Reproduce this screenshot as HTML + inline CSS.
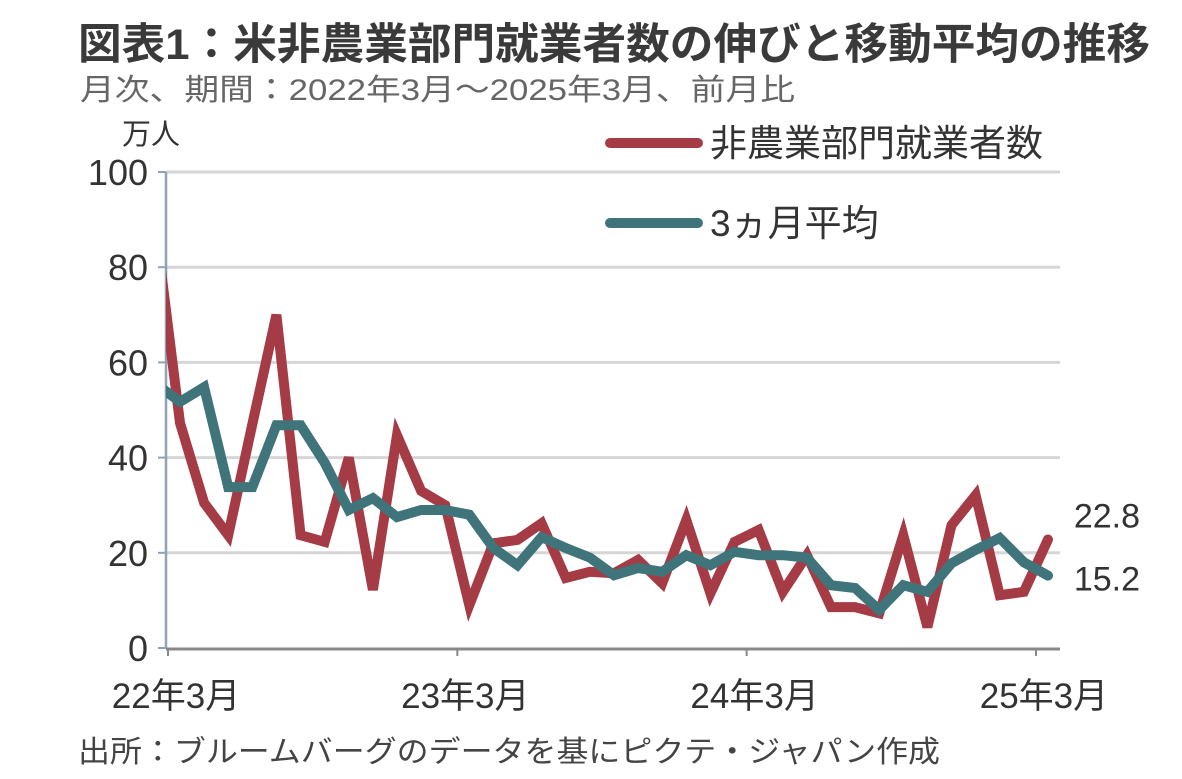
<!DOCTYPE html>
<html><head><meta charset="utf-8"><style>
body{margin:0;background:#fff;width:1182px;height:779px;overflow:hidden;font-family:"Liberation Sans","Noto Sans CJK JP",sans-serif;}
svg{position:absolute;left:0;top:0}
</style></head><body>
<svg id="chart" width="1182" height="779" xmlns="http://www.w3.org/2000/svg">
<text x="78" y="59" font-size="43" font-weight="bold" fill="#3a3a3a" font-family="Liberation Sans, Noto Sans CJK JP, sans-serif" textLength="1072" lengthAdjust="spacingAndGlyphs">図表1：米非農業部門就業者数の伸びと移動平均の推移</text>
<text x="80" y="100" font-size="30" fill="#666" font-family="Liberation Sans, Noto Sans CJK JP, sans-serif" textLength="715" lengthAdjust="spacingAndGlyphs">月次、期間：2022年3月～2025年3月、前月比</text>
<text x="122" y="144" font-size="29" fill="#333" font-family="Liberation Sans, Noto Sans CJK JP, sans-serif">万人</text>
<text x="78" y="762" font-size="30" fill="#444" font-family="Liberation Sans, Noto Sans CJK JP, sans-serif" textLength="862" lengthAdjust="spacingAndGlyphs">出所：ブルームバーグのデータを基にピクテ・ジャパン作成</text>
<g id="grid"></g><g id="axes"></g><g id="series"></g><g id="legend"></g>
</svg>
<script>
const yTicks=[0,20,40,60,80,100];
const xLabels=["22年3月","23年3月","24年3月","25年3月"];
const xLabelIdx=[0,12,24,36];
const payrolls=[88,47.3,30.5,23.7,47,70,23.7,22.3,40,12.2,44.7,33,30,9,22,22.7,26.2,14.7,16,15.7,18.5,13.6,26.9,11.5,22.3,24.8,11.8,19.5,8.6,8.6,7.3,23.7,4.4,25.8,32.1,11.1,11.8,22.8];
const avg3=[55.5,51.7,54.8,33.8,33.8,46.8,46.8,38.9,29,31.5,27.5,29,29,28,21,17.4,23.3,21,19,15.3,16.8,16,19.5,17.4,20.2,19.5,19.5,19,13.2,12.6,8,13.2,11.8,17.8,20.6,23.1,18,15.2];
const endLabels=["22.8","15.2"];
const NS="http://www.w3.org/2000/svg";
const X0=166,X1=1060,Y0=648,Y1=172;
function x(i){return 180+(i-1)*24.11;} // array index 0 = Feb 2022
function y(v){return Y0-(v/100)*(Y0-Y1);}
function el(t,a,p){const e=document.createElementNS(NS,t);for(const k in a)e.setAttribute(k,a[k]);p.appendChild(e);return e;}
const grid=document.getElementById('grid'),axes=document.getElementById('axes'),ser=document.getElementById('series'),leg=document.getElementById('legend');
yTicks.forEach(v=>{
 if(v>0){const g=el('line',{x1:X0,x2:X1,y1:y(v),y2:y(v),stroke:'#d6d6d6','stroke-width':3},grid);
 
 }
 const tk=el('line',{x1:X0-8,x2:X0,y1:y(v),y2:y(v),stroke:'#8fa2b8','stroke-width':2},axes);
 
 
 const t=el('text',{x:148,y:y(v)+13,'text-anchor':'end','font-size':36,fill:'#333'},axes);t.textContent=v;
 
 
});
const ya=el('line',{x1:X0,x2:X0,y1:Y1,y2:Y0,stroke:'#8fa2b8','stroke-width':2.5},axes);


const xa=el('line',{x1:X0,x2:X1,y1:Y0+1,y2:Y0+1,stroke:'#888','stroke-width':3},axes);


xLabels.forEach((s,k)=>{
 const xi=x(xLabelIdx[k]+1);
 const tk=el('line',{x1:xi-12,x2:xi-12,y1:Y0,y2:Y0+8,stroke:'#888','stroke-width':2},axes);
 
 
 const t=el('text',{x:xi-4,y:708,'text-anchor':'middle','font-size':35,fill:'#333','font-family':'Liberation Sans, Noto Sans CJK JP, sans-serif'},axes);t.textContent=s;
 
 
});
el('clipPath',{id:'cp'},ser).appendChild(document.createElementNS(NS,'rect'));
const cr=ser.querySelector('rect');cr.setAttribute('x',X0);cr.setAttribute('y',0);cr.setAttribute('width',1000);cr.setAttribute('height',Y0);
function line(data,color,name){
 const d=data.map((v,i)=>(i?'L':'M')+x(i).toFixed(1)+','+y(v).toFixed(1)).join('');
 const p=el('path',{d:d,fill:'none',stroke:color,'stroke-width':10,'stroke-linejoin':'miter','stroke-linecap':'round','clip-path':'url(#cp)'},ser);
 
 
}
line(payrolls,'#a53c45','payrolls-line');
line(avg3,'#3f747b','moving-average-line');
const n=payrolls.length-1;
const l1=el('text',{x:1140,y:y(payrolls[n])-12,'text-anchor':'end','font-size':34,fill:'#333'},ser);l1.textContent=endLabels[0];


const l2=el('text',{x:1140,y:y(avg3[n])+15,'text-anchor':'end','font-size':34,fill:'#333'},ser);l2.textContent=endLabels[1];


[['非農業部門就業者数','#a53c45',143],['3ヵ月平均','#3f747b',223]].forEach((e,k)=>{
 const ln=el('line',{x1:610,x2:698,y1:e[2],y2:e[2],stroke:e[1],'stroke-width':10,'stroke-linecap':'round'},leg);
 
 
 const t=el('text',{x:710,y:e[2]+13,'font-size':37,fill:'#333','font-family':'Liberation Sans, Noto Sans CJK JP, sans-serif'},leg);t.textContent=e[0];
 
 
});
</script>
</body></html>
